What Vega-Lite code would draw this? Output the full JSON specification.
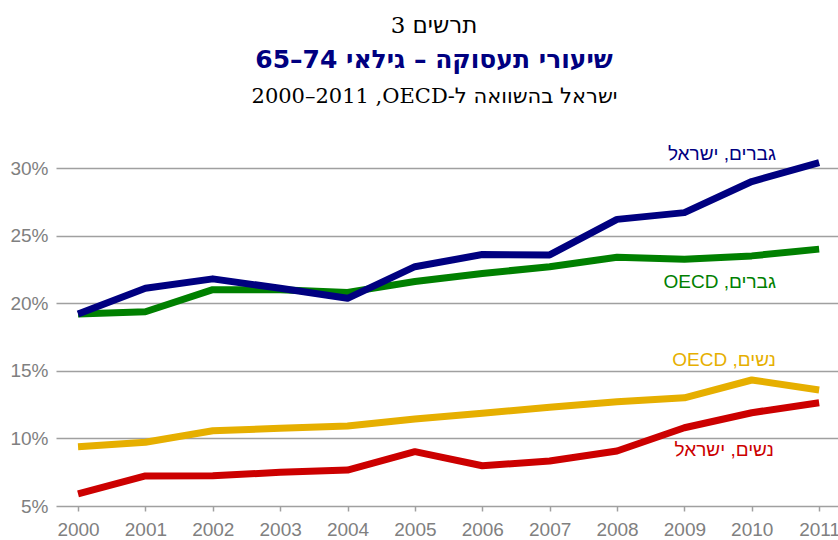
{
  "$schema": "https://vega.github.io/schema/vega-lite/v6.json",
  "width": 782,
  "height": 338,
  "autosize": {"type": "none"},
  "padding": {"left": 56, "top": 168, "right": 0, "bottom": 34},
  "background": "white",
  "config": {"view": {"stroke": null}},
  "title": {
    "text": "\u202Bתרשים 3\u202C",
    "subtitle": "\u202Bשיעורי תעסוקה – גילאי \u202A65–74\u202C\u202C",
    "anchor": "middle",
    "frame": "group",
    "dx": -13,
    "font": "DejaVu Serif, DejaVu Sans",
    "fontSize": 23,
    "fontWeight": "normal",
    "color": "#000000",
    "subtitleFont": "DejaVu Sans",
    "subtitleFontSize": 25,
    "subtitleFontWeight": "bold",
    "subtitleColor": "#000080",
    "subtitlePadding": 10,
    "offset": 12
  },
  "datasets": {
    "series": [
      {"series": "גברים, OECD", "year": 2000, "value": 19.2},
      {"series": "גברים, OECD", "year": 2001, "value": 19.37},
      {"series": "גברים, OECD", "year": 2002, "value": 21.0},
      {"series": "גברים, OECD", "year": 2003, "value": 21.0},
      {"series": "גברים, OECD", "year": 2004, "value": 20.8},
      {"series": "גברים, OECD", "year": 2005, "value": 21.6},
      {"series": "גברים, OECD", "year": 2006, "value": 22.2},
      {"series": "גברים, OECD", "year": 2007, "value": 22.7},
      {"series": "גברים, OECD", "year": 2008, "value": 23.4},
      {"series": "גברים, OECD", "year": 2009, "value": 23.25},
      {"series": "גברים, OECD", "year": 2010, "value": 23.5},
      {"series": "גברים, OECD", "year": 2011, "value": 24.0},
      {"series": "נשים, OECD", "year": 2000, "value": 9.39},
      {"series": "נשים, OECD", "year": 2001, "value": 9.71},
      {"series": "נשים, OECD", "year": 2002, "value": 10.57},
      {"series": "נשים, OECD", "year": 2003, "value": 10.75},
      {"series": "נשים, OECD", "year": 2004, "value": 10.92},
      {"series": "נשים, OECD", "year": 2005, "value": 11.43},
      {"series": "נשים, OECD", "year": 2006, "value": 11.86},
      {"series": "נשים, OECD", "year": 2007, "value": 12.3},
      {"series": "נשים, OECD", "year": 2008, "value": 12.71},
      {"series": "נשים, OECD", "year": 2009, "value": 13.0},
      {"series": "נשים, OECD", "year": 2010, "value": 14.32},
      {"series": "נשים, OECD", "year": 2011, "value": 13.58},
      {"series": "נשים, ישראל", "year": 2000, "value": 5.89},
      {"series": "נשים, ישראל", "year": 2001, "value": 7.22},
      {"series": "נשים, ישראל", "year": 2002, "value": 7.24},
      {"series": "נשים, ישראל", "year": 2003, "value": 7.49},
      {"series": "נשים, ישראל", "year": 2004, "value": 7.66},
      {"series": "נשים, ישראל", "year": 2005, "value": 9.02},
      {"series": "נשים, ישראל", "year": 2006, "value": 7.98},
      {"series": "נשים, ישראל", "year": 2007, "value": 8.33},
      {"series": "נשים, ישראל", "year": 2008, "value": 9.07},
      {"series": "נשים, ישראל", "year": 2009, "value": 10.79},
      {"series": "נשים, ישראל", "year": 2010, "value": 11.9},
      {"series": "נשים, ישראל", "year": 2011, "value": 12.64},
      {"series": "גברים, ישראל", "year": 2000, "value": 19.2},
      {"series": "גברים, ישראל", "year": 2001, "value": 21.1},
      {"series": "גברים, ישראל", "year": 2002, "value": 21.8},
      {"series": "גברים, ישראל", "year": 2003, "value": 21.1},
      {"series": "גברים, ישראל", "year": 2004, "value": 20.36},
      {"series": "גברים, ישראל", "year": 2005, "value": 22.7},
      {"series": "גברים, ישראל", "year": 2006, "value": 23.6},
      {"series": "גברים, ישראל", "year": 2007, "value": 23.57},
      {"series": "גברים, ישראל", "year": 2008, "value": 26.2},
      {"series": "גברים, ישראל", "year": 2009, "value": 26.7},
      {"series": "גברים, ישראל", "year": 2010, "value": 29.0},
      {"series": "גברים, ישראל", "year": 2011, "value": 30.4}
    ],
    "labels": [
      {"series": "גברים, ישראל", "label": "\u202Bגברים, ישראל\u202C", "x": 2010.36, "y": 30.59},
      {"series": "גברים, OECD", "label": "\u202Bגברים, OECD\u202C", "x": 2010.36, "y": 21.15},
      {"series": "נשים, OECD", "label": "\u202Bנשים, OECD\u202C", "x": 2010.36, "y": 15.38},
      {"series": "נשים, ישראל", "label": "\u202Bנשים, ישראל\u202C", "x": 2010.33, "y": 8.7}
    ]
  },
  "layer": [
    {
      "data": {"name": "series"},
      "mark": {"type": "line", "strokeWidth": 7, "strokeJoin": "round"},
      "encoding": {
        "x": {
          "field": "year",
          "type": "quantitative",
          "scale": {"domain": [1999.673, 2011.28], "nice": false, "zero": false},
          "axis": {
            "values": [2000, 2001, 2002, 2003, 2004, 2005, 2006, 2007, 2008, 2009, 2010, 2011],
            "format": "d",
            "title": null,
            "grid": false,
            "domain": false,
            "ticks": true,
            "tickSize": 5,
            "tickWidth": 1.5,
            "tickColor": "#a0a0a0",
            "labelFont": "Liberation Sans",
            "labelFontSize": 19,
            "labelColor": "#808080",
            "labelPadding": 9,
            "labelFlush": false,
            "labelOverlap": false
          }
        },
        "y": {
          "field": "value",
          "type": "quantitative",
          "scale": {"domain": [5, 30], "nice": false, "zero": false},
          "axis": {
            "values": [5, 10, 15, 20, 25, 30],
            "labelExpr": "datum.value + '%'",
            "grid": true,
            "gridColor": "#a0a0a0",
            "gridWidth": 1.5,
            "domain": false,
            "ticks": false,
            "labelPadding": 8,
            "labelFont": "Liberation Sans",
            "labelFontSize": 19,
            "labelColor": "#808080",
            "title": "\u202Bישראל בהשוואה ל-OECD\u200F, \u202A2000–2011\u202C\u202C",
            "titleAngle": 0,
            "titleX": 378,
            "titleY": -66,
            "titleAlign": "center",
            "titleBaseline": "alphabetic",
            "titleFont": "DejaVu Serif, DejaVu Sans",
            "titleFontSize": 21,
            "titleFontWeight": "normal",
            "titleColor": "#000000"
          }
        },
        "color": {
          "field": "series",
          "type": "nominal",
          "scale": {
            "domain": ["גברים, ישראל", "גברים, OECD", "נשים, OECD", "נשים, ישראל"],
            "range": ["#000080", "#008000", "#E6AF00", "#CC0000"]
          },
          "legend": null
        }
      }
    },
    {
      "data": {"name": "labels"},
      "mark": {"type": "text", "align": "right", "baseline": "alphabetic", "font": "Liberation Sans", "fontSize": 19},
      "encoding": {
        "x": {"field": "x", "type": "quantitative"},
        "y": {"field": "y", "type": "quantitative"},
        "text": {"field": "label"},
        "color": {"field": "series", "type": "nominal", "legend": null}
      }
    }
  ]
}
